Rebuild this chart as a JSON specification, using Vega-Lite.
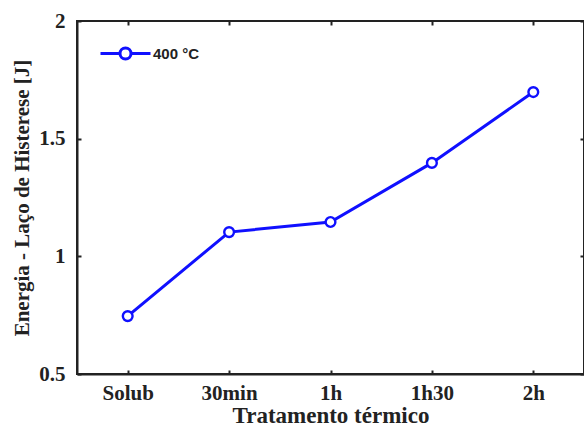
{
  "$schema": "https://vega.github.io/schema/vega-lite/v6.json",
  "autosize": "none",
  "width": 507,
  "height": 353,
  "padding": {"left": 77, "top": 21, "right": 0, "bottom": 54},
  "background": "white",
  "config": {
    "view": {"stroke": "#222", "strokeWidth": 2},
    "axis": {
      "domainColor": "#222", "domainWidth": 2,
      "tickColor": "#222", "tickWidth": 2, "tickSize": -4,
      "grid": false,
      "labelFont": "Liberation Serif", "labelFontWeight": "bold", "labelFontSize": 21, "labelColor": "#222",
      "titleFont": "Liberation Serif", "titleFontWeight": "bold", "titleColor": "#222"
    }
  },
  "data": {"values": [
    {"t": "Solub", "e": 0.746, "s": "400 °C"},
    {"t": "30min", "e": 1.103, "s": "400 °C"},
    {"t": "1h", "e": 1.146, "s": "400 °C"},
    {"t": "1h30", "e": 1.397, "s": "400 °C"},
    {"t": "2h", "e": 1.698, "s": "400 °C"}
  ]},
  "layer": [
    {
      "mark": {"type": "line", "strokeWidth": 3},
      "encoding": {
        "x": {"field": "t", "type": "ordinal", "sort": null,
              "scale": {"type": "point", "padding": 0.5},
              "axis": {"orient": "bottom", "labelAngle": 0, "labelPadding": 12, "title": "Tratamento térmico", "titleFontSize": 23, "titlePadding": 1}},
        "y": {"field": "e", "type": "quantitative",
              "scale": {"domain": [0.5, 2], "nice": false, "zero": false},
              "axis": {"orient": "left", "values": [0.5, 1, 1.5, 2], "format": "~g", "labelPadding": 16, "title": "Energia - Laço de Histerese [J]", "titleFontSize": 21, "titlePadding": 6}},
        "color": {"field": "s", "type": "nominal",
                  "scale": {"range": ["#1010ff"]},
                  "legend": {"title": null, "orient": "none", "legendX": 22, "legendY": 6,
                             "symbolType": "M-1,0L-0.22,0M0.22,0A0.22,0.22 0 1,1 -0.22,0A0.22,0.22 0 1,1 0.22,0M0.22,0L1,0",
                             "symbolSize": 2500, "symbolStrokeWidth": 3, "symbolFillColor": "white", "symbolStrokeColor": "#1010ff",
                             "labelFont": "Liberation Sans", "labelFontWeight": "bold", "labelFontSize": 15, "labelColor": "#222",
                             "labelOffset": 1, "padding": 0}}
      }
    },
    {
      "mark": {"type": "point", "shape": "circle", "size": 95, "strokeWidth": 2.4, "stroke": "#1010ff", "fill": "white", "filled": true, "opacity": 1},
      "encoding": {
        "x": {"field": "t", "type": "ordinal", "sort": null,
              "axis": {"orient": "top", "labels": false, "title": null, "domain": false}},
        "y": {"field": "e", "type": "quantitative",
              "axis": {"orient": "right", "labels": false, "title": null, "values": [0.5, 1, 1.5, 2], "domain": false}}
      }
    }
  ],
  "resolve": {"axis": {"x": "independent", "y": "independent"}}
}
